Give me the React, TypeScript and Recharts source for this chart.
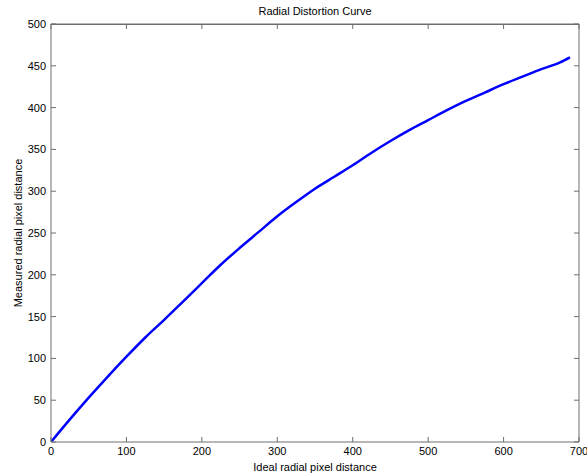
import React from "react";
import { LineChart, Line, XAxis, YAxis } from "recharts";

const idealDistance = [0, 25, 50, 75, 100, 125, 150, 175, 200, 225, 250, 275, 300, 325, 350, 375, 400, 425, 450, 475, 500, 525, 550, 575, 600, 625, 650, 675, 688];
const measuredDistance = [0, 27, 53, 78, 102, 125, 146, 168, 190, 212, 232, 251, 270, 287, 303, 317, 331, 346, 360, 373, 385, 397, 408, 418, 428, 437, 446, 454, 460];
const xTicks = [0, 100, 200, 300, 400, 500, 600, 700];
const yTicks = [0, 50, 100, 150, 200, 250, 300, 350, 400, 450, 500];

const data = idealDistance.map((x, i) => ({ x, y: measuredDistance[i] }));

const FONT = "'Liberation Sans', Arial, Helvetica, sans-serif";
const AXIS = "#6e6e6e";
const tickStyle = { fill: "#000", fontSize: 11, fontFamily: FONT };

export default function App() {
  return (
    <div style={{ position: "absolute", left: 0, top: 0, width: 587, height: 476, background: "#fff" }}>
      <div
        style={{
          position: "absolute",
          left: 51,
          width: 528,
          top: 4,
          textAlign: "center",
          fontFamily: FONT,
          fontSize: 11,
          lineHeight: "14px",
          color: "#000",
        }}
      >
        Radial Distortion Curve
      </div>
      <LineChart width={587} height={476} data={data} margin={{ top: 22, right: 7, bottom: 0, left: 0 }}>
        <XAxis
          xAxisId="bottom"
          dataKey="x"
          type="number"
          domain={[0, 700]}
          ticks={xTicks}
          allowDataOverflow
          height={34}
          stroke={AXIS}
          tickSize={-5}
          tickMargin={10}
          tick={tickStyle}
          interval={0}
          label={{ value: "Ideal radial pixel distance", position: "center", dy: 8, fill: "#000", fontSize: 11, fontFamily: FONT }}
        />
        <XAxis
          xAxisId="top"
          orientation="top"
          dataKey="x"
          type="number"
          domain={[0, 700]}
          ticks={xTicks}
          allowDataOverflow
          height={2}
          stroke={AXIS}
          tickSize={-5}
          tickFormatter={() => ""}
          interval={0}
        />
        <YAxis
          yAxisId="left"
          type="number"
          domain={[0, 500]}
          ticks={yTicks}
          allowDataOverflow
          width={51}
          stroke={AXIS}
          tickSize={-5}
          tickMargin={10}
          tick={tickStyle}
          interval={0}
          label={{ value: "Measured radial pixel distance", angle: -90, position: "center", dx: -7.5, fill: "#000", fontSize: 11, fontFamily: FONT }}
        />
        <YAxis
          yAxisId="right"
          orientation="right"
          type="number"
          domain={[0, 500]}
          ticks={yTicks}
          allowDataOverflow
          width={1}
          stroke={AXIS}
          tickSize={-5}
          tickFormatter={() => ""}
          interval={0}
        />
        <Line
          xAxisId="top"
          yAxisId="right"
          type="monotone"
          dataKey="y"
          stroke="none"
          strokeWidth={0}
          dot={false}
          activeDot={false}
          legendType="none"
          isAnimationActive={false}
        />
        <Line
          xAxisId="bottom"
          yAxisId="left"
          type="monotone"
          dataKey="y"
          stroke="#0000ff"
          strokeWidth={2.5}
          dot={false}
          isAnimationActive={false}
        />
      </LineChart>
      <div
        style={{
          position: "absolute",
          left: 51,
          top: 24,
          width: 528,
          height: 0,
          borderTop: `1px solid ${AXIS}`,
          pointerEvents: "none",
        }}
      />
    </div>
  );
}
